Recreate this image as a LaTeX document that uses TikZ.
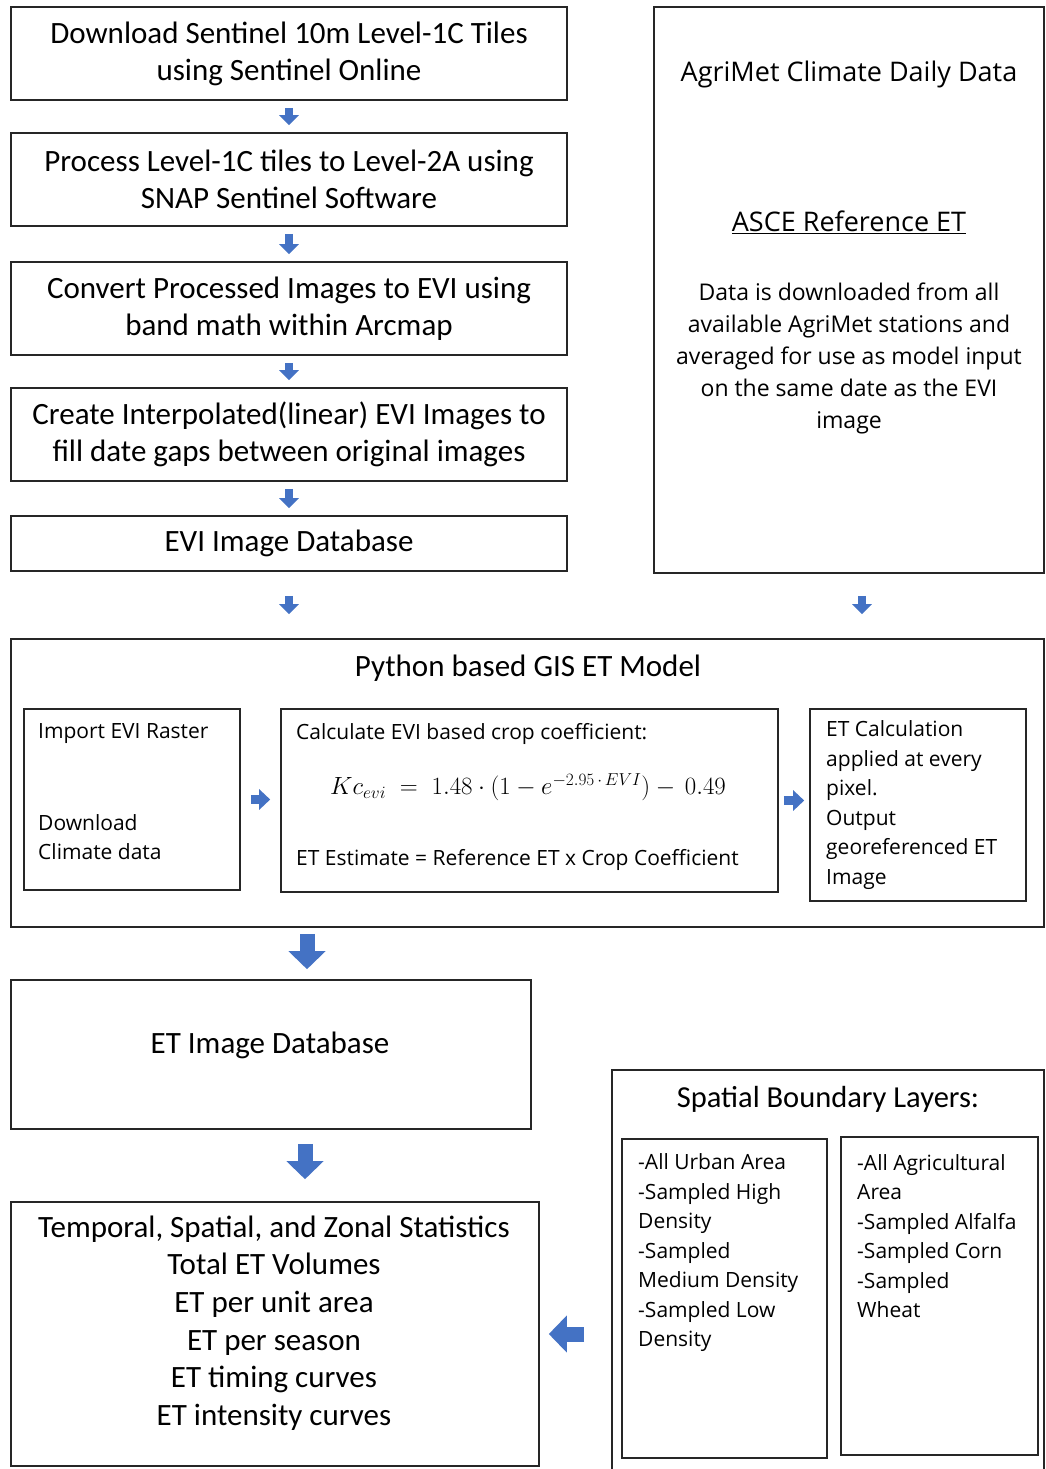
\documentclass[tikz,border=0pt]{standalone}
\usepackage{fontspec}
\setmainfont{Carlito}
\newfontfamily\opensans{Open Sans}
\usetikzlibrary{arrows.meta}

\definecolor{flowblue}{HTML}{4472C4}
\newcommand{\bigtext}{\fontsize{31}{37}\selectfont}
\newcommand{\agritext}{\opensans\fontsize{23}{32}\selectfont}
\newcommand{\smalltext}{\opensans\fontsize{21}{29.5}\selectfont}

\tikzset{
    box/.style={draw=black!85, line width=1.6pt, inner sep=0pt, align=center},
    note/.style={font=\smalltext, anchor=west, align=left, inner sep=0pt},
    flow/.style={draw=flowblue, line width=8pt, -{Triangle[width=19pt, length=10pt]}},
    sideflow/.style={draw=flowblue, line width=9pt, -{Triangle[width=20pt, length=11pt]}},
    bigflow/.style={draw=flowblue, line width=15pt, -{Triangle[width=36pt, length=18pt]}},
}

\begin{document}
\begin{tikzpicture}[x=1pt, y=-1pt]
    \useasboundingbox (0,0) rectangle (1045,1469);

    % Sentinel processing chain
    \node[box, minimum width=556pt, minimum height=93pt, font=\bigtext] (dl) at (289, 53.5) {Download Sentinel 10m Level-1C Tiles\\using Sentinel Online};
    \node[box, minimum width=556pt, minimum height=93pt, font=\bigtext] (proc) at (289, 179.5) {Process Level-1C tiles to Level-2A using\\SNAP Sentinel Software};
    \node[box, minimum width=556pt, minimum height=93pt, font=\bigtext] (evi) at (289, 308.5) {Convert Processed Images to EVI using\\band math within Arcmap};
    \node[box, minimum width=556pt, minimum height=93pt, font=\bigtext] (interp) at (289, 434.5) {Create Interpolated(linear) EVI Images to\\fill date gaps between original images};
    \node[box, minimum width=556pt, minimum height=55pt, font=\bigtext] (evidb) at (289, 543.5) {EVI Image Database};

    % climate data
    \node[box, minimum width=390pt, minimum height=566pt] (agri) at (849, 290) {};
    \node[font={\opensans\fontsize{27}{32}\selectfont}] (agrititle) at (849, 74) {AgriMet Climate Daily Data};
    \node[font={\opensans\fontsize{27}{32}\selectfont}] (asce) at (849, 222) {\underline{ASCE Reference ET}};
    \node[font=\agritext, align=center] (agrinote) at (849, 358.5) {Data is downloaded from all\\available AgriMet stations and\\averaged for use as model input\\on the same date as the EVI\\image};

    % model
    \node[box, minimum width=1033pt, minimum height=288pt] (model) at (527.5, 783) {};
    \node[font=\bigtext] (modeltitle) at (528, 668) {Python based GIS ET Model};

    \node[box, minimum width=216pt, minimum height=181pt] (impt) at (132, 799.5) {};
    \node[note] (imptraster) at (38, 734) {Import EVI Raster};
    \node[note] (imptclimate) at (38, 837) {Download\\Climate data};

    \node[box, minimum width=497pt, minimum height=183pt] (calc) at (529.5, 800.5) {};
    \node[note] (calchead) at (296, 734) {Calculate EVI based crop coefficient:};
    \node[font=\fontsize{24}{24}\selectfont] (kc) at (528, 787) {$Kc_{evi} \;=\; 1.48\cdot(1-e^{-2.95\,\cdot\,EVI})-\,0.49$};
    \node[note] (calcet) at (296, 860) {ET Estimate = Reference ET x Crop Coefficient};

    \node[box, minimum width=216pt, minimum height=192pt] (etcalc) at (918, 805) {};
    \node[note] (etcalctext) at (826, 805) {ET Calculation\\applied at every\\pixel.\\Output\\georeferenced ET\\Image};

    % outputs
    \node[box, minimum width=520pt, minimum height=149pt] (etdb) at (271, 1054.5) {};
    \node[font=\bigtext] (etdbtext) at (270, 1045) {ET Image Database};

    \node[box, minimum width=528pt, minimum height=264pt] (stats) at (275, 1334) {};
    \node[font=\fontsize{31}{37.6}\selectfont, align=center] (statstext) at (274, 1323) {Temporal, Spatial, and Zonal Statistics\\Total ET Volumes\\ET per unit area\\ET per season\\ET timing curves\\ET intensity curves};

    % boundary layers
    \node[box, minimum width=432pt, minimum height=410pt] (spatial) at (828, 1275) {};
    \node[font=\fontsize{30.5}{37}\selectfont] (spatialtitle) at (828, 1099) {Spatial Boundary Layers:};
    \node[box, minimum width=205pt, minimum height=319pt] (urban) at (724.5, 1298.5) {};
    \node[note] (urbantext) at (638, 1253) {-All Urban Area\\-Sampled High\\Density\\-Sampled\\Medium Density\\-Sampled Low\\Density};
    \node[box, minimum width=197pt, minimum height=318pt] (agric) at (939.5, 1296) {};
    \node[note] (agrictext) at (857, 1236) {-All Agricultural\\Area\\-Sampled Alfalfa\\-Sampled Corn\\-Sampled\\Wheat};

    \draw[flow, shorten <=7pt, shorten >=7pt] (dl) -- (proc);
    \draw[flow, shorten <=7pt, shorten >=7pt] (proc) -- (evi);
    \draw[flow, shorten <=7pt, shorten >=7pt] (evi) -- (interp);
    \draw[flow, shorten <=7pt, shorten >=7pt] (interp) -- (evidb);
    \draw[flow, shorten <=24pt, shorten >=24pt] (evidb.south) -- (evidb.south |- model.north);
    \draw[flow, shorten <=22pt, shorten >=24pt] ([xshift=13pt]agri.south) -- ([xshift=13pt]agri.south |- model.north);

    \draw[sideflow, shorten <=10pt, shorten >=10pt] (impt.east) -- (impt.east -| calc.west);
    \draw[sideflow, shorten <=5pt, shorten >=5pt] (calc.east) -- (calc.east -| etcalc.west);

    \draw[bigflow, shorten <=6pt, shorten >=10pt] ([xshift=36pt]etdb.north |- model.south) -- ([xshift=36pt]etdb.north);
    \draw[bigflow, shorten <=14pt, shorten >=22pt] ([xshift=34pt]etdb.south) -- ([xshift=34pt]etdb.south |- stats.north);
    \draw[bigflow, shorten <=27pt, shorten >=9pt] (spatial.west |- stats.east) -- (stats.east);
\end{tikzpicture}
\end{document}
